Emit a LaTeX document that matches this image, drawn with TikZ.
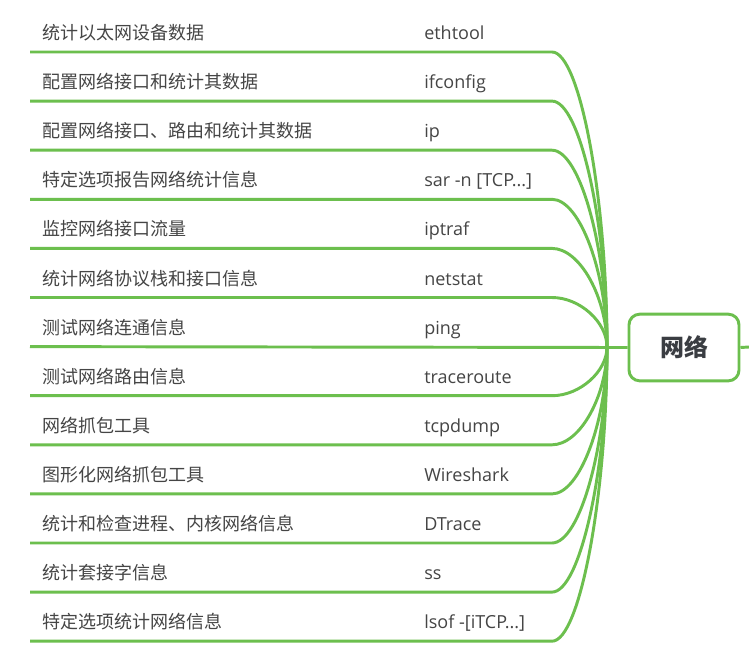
\documentclass[tikz,border=0pt]{standalone}
\usepackage{fontspec}
\setmainfont{Open Sans}
\newfontfamily\cjk{Noto Sans CJK SC}
\definecolor{lg}{HTML}{6CBF4E}
\definecolor{tx}{HTML}{454545}
\definecolor{tt}{HTML}{3A3D42}
\newcommand\tdots{.\kern0pt.\kern0pt.}
\begin{document}
\begin{tikzpicture}[x=0.75pt,y=-0.75pt,
  conn/.style={draw=lg,line width=2.2pt},
  lab/.style={anchor=base west,inner sep=0,text=tx,font=\cjk\fontsize{13.5}{16}\selectfont},
  cmd/.style={anchor=base west,inner sep=0,text=tx,font=\fontsize{13.5}{16}\selectfont},
  rootbox/.style={draw=lg,line width=2.2pt,rounded corners=8pt,fill=white,minimum width=82.5pt,minimum height=50pt,inner sep=0,text=tt,font=\cjk\bfseries\fontsize{18}{20}\selectfont}]
\useasboundingbox (0,0) rectangle (749,654);
\fill[white] (0,0) rectangle (749,654);
\coordinate (J) at (607,347);
\coordinate (R) at (749,347);
\node[rootbox] (root) at (684,347.5) {网络};
\foreach \i/\a/\b in {1/统计以太网设备数据/ethtool,
  2/配置网络接口和统计其数据/ifconfig,
  3/配置网络接口、路由和统计其数据/ip,
  4/特定选项报告网络统计信息/{sar -n [TCP\tdots]},
  5/监控网络接口流量/iptraf,
  6/统计网络协议栈和接口信息/netstat,
  7/测试网络连通信息/ping,
  8/测试网络路由信息/traceroute,
  9/网络抓包工具/tcpdump,
  10/图形化网络抓包工具/Wireshark,
  11/统计和检查进程、内核网络信息/DTrace,
  12/统计套接字信息/ss,
  13/特定选项统计网络信息/{lsof -[iTCP\tdots]}}{
  \pgfmathsetmacro\yy{52+(\i-1)*49.1}
  \pgfmathsetmacro\cy{\yy+0.5*(347-\yy)}
  \node[lab] (l\i) at (42,\yy-12.5) {\a};
  \node[cmd] (r\i) at (424,\yy-12.5) {\b};
  \coordinate (s\i) at (30,\yy);
  \coordinate (e\i) at (552,\yy);
  \coordinate (c\i) at (580,\yy);
  \coordinate (d\i) at (607,\cy);
  \ifnum\i=7
    \draw[conn] (s\i) -- (root.west);
  \else
    \draw[conn] (s\i) -- (e\i) .. controls (c\i) and (d\i) .. (J);
  \fi
}
\draw[conn] (root.east) -- (R);
\end{tikzpicture}
\end{document}
